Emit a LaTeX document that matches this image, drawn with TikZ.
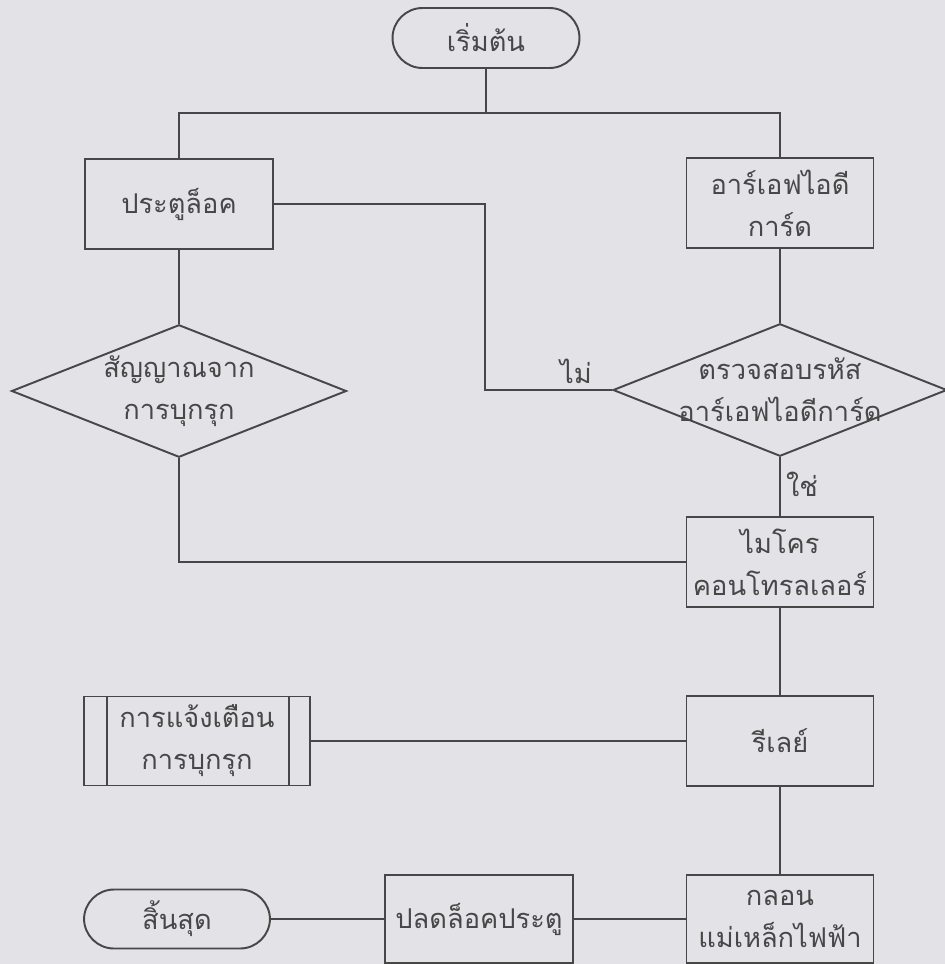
\documentclass[tikz,border=0pt]{standalone}
\usepackage{fontspec}
\usepackage{xcolor}
\newfontfamily\thaifont[Script=Thai]{Loma}
\usetikzlibrary{shapes.geometric}
\definecolor{paper}{HTML}{E3E3E7}
\definecolor{ink}{HTML}{474747}
\tikzset{
  flowline/.style={ink, line width=1.1pt},
  procbox/.style={draw=ink, line width=1.1pt, rectangle, minimum width=3.74cm, minimum height=1.8cm, inner sep=0pt, align=center, text=ink},
  termbox/.style={draw=ink, line width=1.1pt, rectangle, rounded corners=0.6cm, minimum width=3.74cm, minimum height=1.2cm, inner sep=0pt, align=center, text=ink},
  decbox/.style={draw=ink, line width=1.1pt, diamond, shape aspect=2.5, inner sep=0pt, minimum width=6.7cm, minimum height=2.65cm},
  decnote/.style={align=center, text=ink},
  tag/.style={text=ink}
}
\begin{document}
\begin{tikzpicture}[x=0.02cm, y=-0.02cm, font=\thaifont\fontsize{15.5}{24}\selectfont]
\fill[paper] (0,0) rectangle (945,964);
\useasboundingbox (0,0) rectangle (945,964);
\node[termbox] (start) at (486,38) {เริ่มต้น};
\node[procbox, minimum width=3.76cm] (lock) at (179,204) {ประตูล็อค};
\node[procbox] (rfid) at (780,203) {อาร์เอฟไอดี\\การ์ด};
\node[decbox] (sig) at (179,391) {};
\node[decnote] (sigtext) at (sig.center) {สัญญาณจาก\\การบุกรุก};
\node[decbox, minimum width=6.68cm] (chk) at (780,390) {};
\node[decnote] (chktext) at (chk.center) {ตรวจสอบรหัส\\อาร์เอฟไอดีการ์ด};
\node[procbox] (micro) at (780,562) {ไมโคร\\คอนโทรลเลอร์};
\node[procbox] (relay) at (780,741) {รีเลย์};
\node[procbox, minimum width=4.52cm, minimum height=1.78cm] (alarm) at (197,741) {การแจ้งเตือน\\การบุกรุก};
\draw[flowline] ([xshift=0.48cm]alarm.north west) -- ([xshift=0.48cm]alarm.south west);
\draw[flowline] ([xshift=-0.44cm]alarm.north east) -- ([xshift=-0.44cm]alarm.south east);
\node[procbox, minimum height=1.76cm] (magnet) at (780,919) {กลอน\\แม่เหล็กไฟฟ้า};
\node[procbox, minimum width=3.76cm, minimum height=1.76cm] (unlock) at (479,919) {ปลดล็อคประตู};
\node[termbox, minimum width=3.72cm, minimum height=1.18cm] (finish) at (177,919) {สิ้นสุด};
\coordinate (split) at (486,113);
\coordinate (nobend) at (485,390);
\draw[flowline] (start) -- (split);
\draw[flowline] (lock.north) |- (split) -| (rfid.north);
\draw[flowline] (lock.east) -| (nobend) -- (chk.west);
\node[tag] (no) at (576,371) {ไม่};
\draw[flowline] (lock) -- (sig.north);
\draw[flowline] (rfid) -- (chk.north);
\draw[flowline] (chk.south) -- (micro);
\node[tag] (yes) at (802,484) {ใช่};
\draw[flowline] (sig.south) |- (micro.west);
\draw[flowline] (micro) -- (relay);
\draw[flowline] (alarm) -- (relay);
\draw[flowline] (relay) -- (magnet);
\draw[flowline] (magnet) -- (unlock);
\draw[flowline] (unlock) -- (finish);
\end{tikzpicture}
\end{document}
